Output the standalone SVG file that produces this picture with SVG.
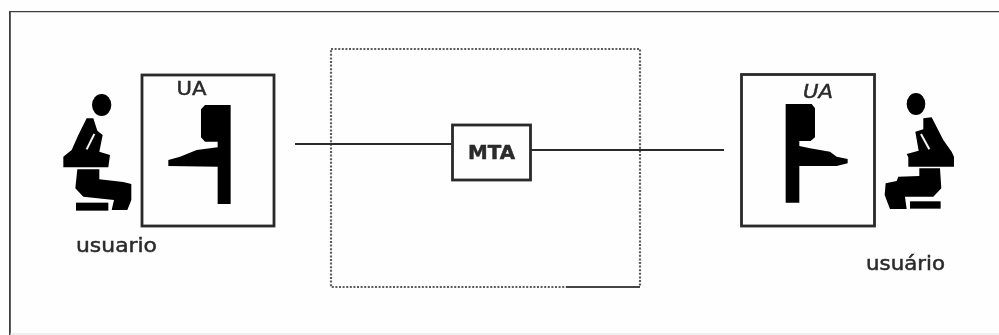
<svg xmlns="http://www.w3.org/2000/svg" width="999" height="335" viewBox="0 0 999 335">
<style>
.box{fill:none;stroke:#2a2a2a;stroke-width:2.8}
.ink{fill:#050505}
.gap{fill:none;stroke:#f4f4f4;stroke-width:6}
.lbl{font-family:"DejaVu Sans",sans-serif;fill:#2a2a2a;stroke:#2a2a2a;stroke-width:.5;font-size:20px}
.wire{stroke:#2a2a2a;stroke-width:2;fill:none}
.dot{fill:none;stroke:#5c5c5c;stroke-width:2.2;stroke-dasharray:2 1.6}
</style>
<defs><filter id="soft" x="0" y="0" width="100%" height="100%"><feGaussianBlur stdDeviation="0.5"/></filter></defs>
<rect width="999" height="335" fill="#fefefe"/>
<g filter="url(#soft)">
<g id="frame"><path d="M999 11H9.500V335" fill="none" stroke="#3c3c3c" stroke-width="2.600"/><path d="M10 334H999" stroke="#ddd" stroke-width="1"/></g>
<g id="mta-domain"><rect class="dot" x="331" y="49" width="309" height="238"/><path d="M566 287H640" stroke="#444" stroke-width="1.800" fill="none"/></g>
<g id="connectors">
<path class="wire" d="M295 144H452"/>
<path class="wire" d="M531 150H724"/>
</g>
<g id="mta"><rect class="box" x="452.500" y="125" width="78" height="55"/><text class="lbl" x="468" y="159" font-weight="bold" textLength="47" lengthAdjust="spacingAndGlyphs">MTA</text></g>
<g id="ua-left">
<rect class="box" x="142" y="75" width="132" height="151"/>
<text class="lbl" x="176.500" y="95" textLength="30" lengthAdjust="spacingAndGlyphs">UA</text>
<g transform="translate(40 60) scale(.3333)"><path class="ink" d="M483 148L495 135H572V432H533V320L385 318V300L420 290L470 270L533 262V245H495L483 232Z"/></g>
</g>
<g id="user-left" transform="translate(40 60) scale(.3333)">
<ellipse class="ink" cx="185" cy="135" rx="29" ry="33"/>
<path class="ink" d="M140 175H160L172 212L188 225L178 275L210 285L205 322H70V290L95 270L115 225Z"/>
<path class="gap" d="M163 222L140 268"/>
<path class="ink" d="M112 328H178V358L250 366L274 372V420L262 450H215L222 420L130 410L106 385Z"/>
<rect class="ink" x="108" y="428" width="97" height="24"/>
</g>
<g id="label-user-left"><text class="lbl" x="76" y="252" textLength="81" lengthAdjust="spacingAndGlyphs">usuario</text></g>
<g id="ua-right">
<rect class="box" x="741.500" y="74.500" width="133" height="151.500"/>
<text class="lbl" x="803" y="98" font-style="italic" textLength="30" lengthAdjust="spacingAndGlyphs">UA</text>
<g transform="translate(720 60) scale(.3333)"><path class="ink" d="M197 132H275L285 145V232L272 243H238V258L270 265L330 275L350 290L383 297V310L350 318H238V428H197Z"/></g>
</g>
<g id="user-right" transform="translate(720 60) scale(.3333)">
<ellipse class="ink" cx="588" cy="132" rx="28" ry="33"/>
<path class="ink" d="M610 175L635 172L670 240L695 275L702 290V320H565V292L560 282L596 272L586 215L610 208Z"/>
<path class="gap" d="M603 222L628 268"/>
<path class="ink" d="M598 325H660L664 385L640 410H555L560 447H510L494 405L497 370L530 363L535 350L598 348Z"/>
<rect class="ink" x="570" y="424" width="92" height="22"/>
</g>
<g id="label-user-right"><text class="lbl" x="866" y="270" textLength="79" lengthAdjust="spacingAndGlyphs">usuário</text></g>
</g>
</svg>
